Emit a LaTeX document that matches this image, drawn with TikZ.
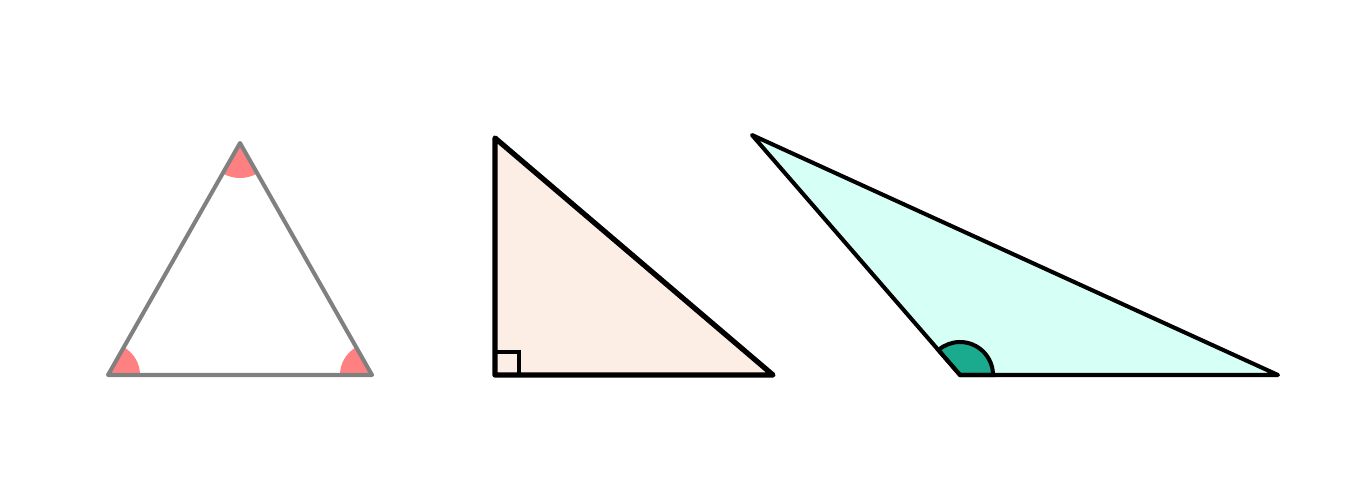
\documentclass[tikz,border=0pt]{standalone}
\usepackage{tikz}
\definecolor{anglered}{RGB}{255,128,128}
\definecolor{rightfill}{RGB}{252,237,229}
\definecolor{obtusefill}{RGB}{214,255,246}
\definecolor{obtuseangle}{RGB}{26,170,142}
\begin{document}
\begin{tikzpicture}[x=0.02cm,y=0.02cm]
		\useasboundingbox (0,0) rectangle (1357,495);
		% equilateral
		\coordinate (A1) at (108,120);
		\coordinate (B1) at (372,120);
		\coordinate (C1) at (240,352);
		\fill[anglered] (A1) -- ++(0:32) arc (0:60:32) -- cycle;
		\fill[anglered] (B1) -- ++(120:32) arc (120:180:32) -- cycle;
		\fill[anglered] (C1) -- ++(240:35) arc (240:300:35) -- cycle;
		\draw[gray,line width=2.3pt,line join=round] (A1) -- (B1) -- (C1) -- cycle;
		% right
		\coordinate (A2) at (495,120);
		\coordinate (B2) at (773,120);
		\coordinate (C2) at (495,357);
		\fill[rightfill] (A2) -- (B2) -- (C2) -- cycle;
		\draw[line width=2.2pt] (A2) rectangle ++(24,23);
		\draw[line width=3pt,line join=round] (A2) -- (B2) -- (C2) -- cycle;
		% obtuse
		\coordinate (A3) at (960,120);
		\coordinate (B3) at (1278,120);
		\coordinate (C3) at (752,360);
		\fill[obtusefill] (A3) -- (B3) -- (C3) -- cycle;
		\filldraw[fill=obtuseangle,line width=2.3pt] (A3) -- ++(0:33) arc (0:130.9:33) -- cycle;
		\draw[line width=2.3pt,line join=round] (A3) -- (B3) -- (C3) -- cycle;
	\end{tikzpicture}
\end{document}
